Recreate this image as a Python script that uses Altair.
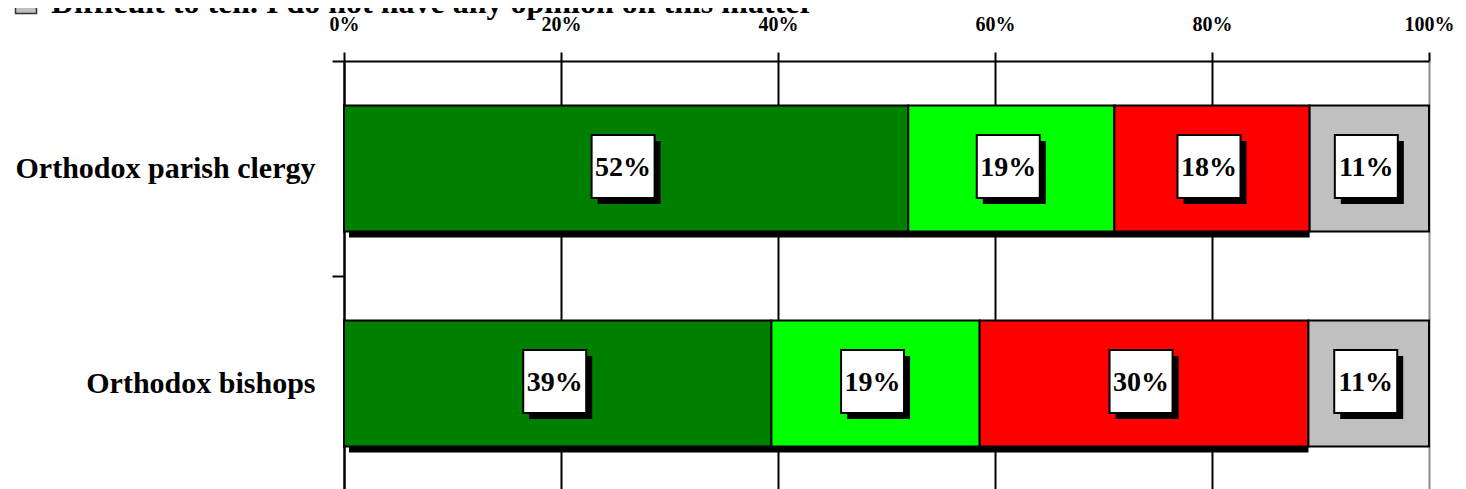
import altair as alt
import pandas as pd

groups = ["Orthodox parish clergy", "Orthodox bishops"]
answers = [
    "Definitely yes",
    "Rather yes",
    "No",
    "Difficult to tell. I do not have any opinion on this matter",
]
colors = ["#008000", "#00FF00", "#FF0000", "#C0C0C0"]
parish_clergy = [52, 19, 18, 11]
bishops = [39, 19, 30, 11]
tick_values = [0, 0.2, 0.4, 0.6, 0.8, 1.0]

values = {groups[0]: parish_clergy, groups[1]: bishops}

rows = []
shadow_rows = []
for g in groups:
    vals = values[g]
    total = sum(vals)
    cum = 0
    for a, v in zip(answers, vals):
        rows.append(dict(group=g, answer=a, value=v,
                         start=cum / total, end=(cum + v) / total,
                         mid=(cum + v / 2) / total, label=f"{v}%"))
        cum += v
    shadow_rows.append(dict(group=g, start=0.0, end=sum(vals[:3]) / total))

df = pd.DataFrame(rows)
sdf = pd.DataFrame(shadow_rows)

FONT = "Liberation Serif"

y = alt.Y(
    "group:N", sort=groups, title=None,
    scale=alt.Scale(paddingInner=0, paddingOuter=0),
    axis=alt.Axis(
        tickBand="extent", tickSize=12, tickWidth=2, tickColor="black",
        domainColor="black", domainWidth=2,
        labelFont=FONT, labelFontSize=30, labelFontWeight="bold",
        labelColor="black", labelPadding=17, grid=False, labelLimit=1000,
    ),
)

xscale = alt.Scale(domain=[0, 1], nice=False, zero=True)
xaxis = alt.Axis(
    orient="top", values=tick_values, format=".0%", title=None,
    tickSize=9, tickWidth=2, tickColor="black",
    domainColor="black", domainWidth=2,
    grid=True, gridWidth=2,
    gridColor={"condition": {"test": "datum.value === 1", "value": "#8c8c8c"}, "value": "black"},
    labelFont=FONT, labelFontSize=20, labelFontWeight="bold", labelColor="black",
    labelPadding=18, labelFlush=False,
)

bar_h = alt.RelativeBandSize(band=0.586)

shadow = alt.Chart(sdf).mark_bar(
    color="black", height=bar_h, xOffset=5, yOffset=6
).encode(
    x=alt.X("start:Q", scale=xscale, axis=xaxis),
    x2="end:Q",
    y=y,
)

bars = alt.Chart(df).mark_bar(
    height=bar_h, stroke="black", strokeWidth=2
).encode(
    x=alt.X("start:Q", scale=xscale, axis=xaxis),
    x2="end:Q",
    y=y,
    color=alt.Color(
        "answer:N",
        scale=alt.Scale(domain=answers, range=colors),
        legend=alt.Legend(
            orient="none", legendX=-334, legendY=-74, values=[answers[3]],
            title=None, symbolType="square", symbolSize=441,
            symbolStrokeColor="#333333", symbolStrokeWidth=1.5,
            labelFont=FONT, labelFontSize=32, labelFontWeight="bold",
            labelColor="black", labelLimit=2000, labelOffset=9, padding=0,
        ),
    ),
)

box_shadow = alt.Chart(df).mark_square(
    size=3969, color="black", opacity=1, xOffset=3, yOffset=4
).encode(
    x=alt.X("mid:Q", scale=xscale, axis=xaxis),
    y=y,
)

box = alt.Chart(df).mark_square(
    size=3969, fill="white", stroke="black", strokeWidth=2, opacity=1,
    xOffset=-3, yOffset=-2
).encode(
    x=alt.X("mid:Q", scale=xscale, axis=xaxis),
    y=y,
)

labels = alt.Chart(df).mark_text(
    font=FONT, fontSize=28, fontWeight="bold", color="black",
    baseline="middle", align="center", xOffset=-3, yOffset=-1
).encode(
    x=alt.X("mid:Q", scale=xscale, axis=xaxis),
    y=y,
    text="label:N",
)

chart = alt.layer(shadow, bars, box_shadow, box, labels).properties(
    width=1085, height=430,
    autosize=alt.AutoSizeParams(type="none"),
    padding={"left": 336, "top": 53, "right": 29, "bottom": 0},
    background="white",
).configure_view(stroke=None)

chart.save("out.html", embed_options={"renderer": "svg", "actions": False})
